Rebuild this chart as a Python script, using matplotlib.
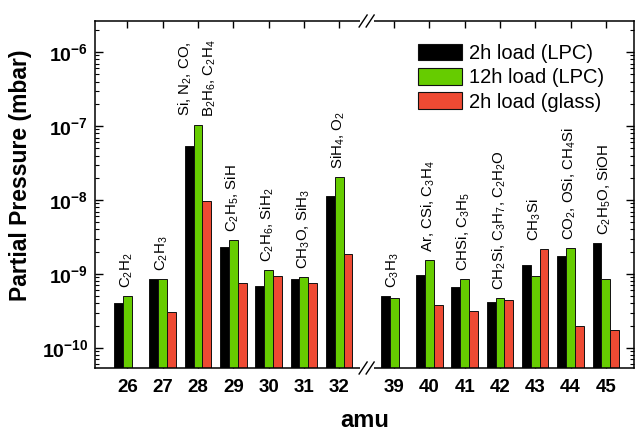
import numpy as np
import matplotlib
matplotlib.use("Agg")
import matplotlib.pyplot as plt
from matplotlib.patches import Patch, Rectangle
from matplotlib.lines import Line2D
from matplotlib.ticker import FixedLocator, FuncFormatter, NullFormatter

plt.rcParams['font.family'] = ['Liberation Sans', 'DejaVu Sans']
plt.rcParams['mathtext.fontset'] = 'custom'
plt.rcParams['mathtext.rm'] = 'Liberation Sans'
plt.rcParams['mathtext.it'] = 'Liberation Sans:italic'
plt.rcParams['mathtext.bf'] = 'Liberation Sans:bold'

# ---------------- data ----------------
amu = [26, 27, 28, 29, 30, 31, 32, 39, 40, 41, 42, 43, 44, 45]
lpc_2h = [4.0e-10, 8.5e-10, 5.4e-8, 2.35e-9, 6.8e-10, 8.7e-10, 1.15e-8,
          5.1e-10, 9.8e-10, 6.6e-10, 4.2e-10, 1.31e-9, 1.74e-9, 2.6e-9]
lpc_12h = [5.0e-10, 8.5e-10, 1.02e-7, 2.9e-9, 1.14e-9, 9.1e-10, 2.08e-8,
           4.7e-10, 1.55e-9, 8.5e-10, 4.8e-10, 9.4e-10, 2.28e-9, 8.5e-10]
glass_2h = [np.nan, 3.1e-10, 9.8e-9, 7.5e-10, 9.3e-10, 7.5e-10, 1.85e-9,
            np.nan, 3.8e-10, 3.2e-10, 4.4e-10, 2.15e-9, 2.0e-10, 1.73e-10]
species = [r"C$_2$H$_2$", r"C$_2$H$_3$",
           "Si, N$_2$, CO,\nB$_2$H$_6$, C$_2$H$_4$",
           r"C$_2$H$_5$, SiH", r"C$_2$H$_6$, SiH$_2$", r"CH$_3$O, SiH$_3$",
           r"SiH$_4$, O$_2$",
           r"C$_3$H$_3$", r"Ar, CSi, C$_3$H$_4$", r"CHSi, C$_3$H$_5$",
           r"CH$_2$Si, C$_3$H$_7$, C$_2$H$_2$O", r"CH$_3$Si",
           r"CO$_2$, OSi, CH$_4$Si", r"C$_2$H$_5$O, SiOH"]
series_names = ["2h load (LPC)", "12h load (LPC)", "2h load (glass)"]
colors = ["#000000", "#66cc00", "#ee4a33"]
ytick_exponents = [-10, -9, -8, -7, -6]

# ---------------- layout ----------------
gap = 1.56
xpos = np.array([i + (gap - 1 if a > 32 else 0) for i, a in enumerate(amu)], dtype=float)
w = 0.25

fig = plt.figure(figsize=(6.37, 4.36), dpi=100)
ax = fig.add_axes([95 / 637, (436 - 368) / 436, (634 - 95) / 637, (368 - 21) / 436])

bottom = 1e-12
for k, (vals, col) in enumerate(zip([lpc_2h, lpc_12h, glass_2h], colors)):
    v = np.array(vals, dtype=float)
    m = ~np.isnan(v)
    ax.bar(xpos[m] + (k - 1) * w, v[m] - bottom, bottom=bottom, width=w,
           color=col, edgecolor="#111111", linewidth=0.7, zorder=2)

ax.set_yscale("log")
ax.set_ylim(10 ** -10.27, 10 ** -5.58)
ax.set_xlim(-0.92, 14.36)

# labels above bars
for i in range(len(amu)):
    top = np.nanmax([lpc_2h[i], lpc_12h[i], glass_2h[i]])
    ax.annotate(species[i], xy=(xpos[i], top), xytext=(-1, 8),
                textcoords="offset pixels", rotation=90, ha="center", va="bottom",
                multialignment="center", fontsize=10.8, zorder=3, linespacing=1.6)

# ticks
ax.xaxis.set_major_locator(FixedLocator(xpos))
ax.set_xticklabels([str(a) for a in amu], fontsize=13.5, fontweight="bold")
ax.tick_params(axis="x", which="major", direction="in", length=5, width=1,
               top=True, pad=8)
ax.yaxis.set_major_locator(FixedLocator([10.0 ** e for e in ytick_exponents]))
ax.yaxis.set_minor_locator(FixedLocator(
    [m * 10.0 ** e for e in range(-11, -5) for m in range(2, 10)]))
ax.yaxis.set_minor_formatter(NullFormatter())
ax.yaxis.set_major_formatter(FuncFormatter(
    lambda v, p: r"$\mathbf{10^{%d}}$" % int(round(np.log10(v)))))
ax.tick_params(axis="y", which="major", direction="in", length=5.5, width=1,
               right=True, labelsize=14, pad=5)
ax.tick_params(axis="y", which="minor", direction="in", length=3, width=0.8,
               right=True)

for s in ax.spines.values():
    s.set_linewidth(1.1)

ax.set_xlabel("amu", fontsize=17, fontweight="bold", labelpad=9)
ax.set_ylabel("Partial Pressure (mbar)", fontsize=16.5, fontweight="bold")
ax.yaxis.set_label_coords(-0.117, 0.556)

# axis break marks
xb = 6 + (gap - 1) / 2 + 0.5
px = 1 / 35.2
py = 1 / 347.0
for yb in (0.0, 1.0):
    ax.add_patch(Rectangle((xb - 7 * px, yb - 3 * py), 14 * px, 6 * py,
                           transform=ax.get_xaxis_transform(), facecolor="white",
                           edgecolor="none", clip_on=False, zorder=5))
    for dxs in (-3.5, 3.5):
        ax.add_line(Line2D([xb + (dxs - 4) * px, xb + (dxs + 4) * px],
                           [yb - 6 * py, yb + 6 * py],
                           transform=ax.get_xaxis_transform(), color="black",
                           linewidth=1.0, clip_on=False, zorder=6))

handles = [Patch(facecolor=c, edgecolor="#111111", linewidth=0.8) for c in colors]
ax.legend(handles, series_names, loc="upper left", bbox_to_anchor=(0.599, 0.935),
          frameon=False, fontsize=14.5, handlelength=2.2, handleheight=0.9,
          handletextpad=0.35, labelspacing=0.25, borderpad=0, borderaxespad=0)

fig.savefig("out.png", dpi=100)
